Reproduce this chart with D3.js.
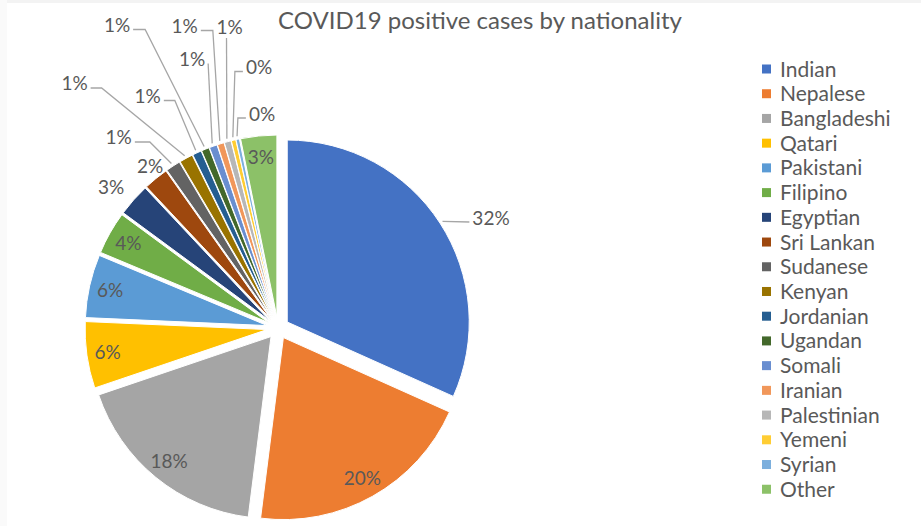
<!DOCTYPE html>
<html>
<head>
<meta charset="utf-8">
<script src="https://cdn.jsdelivr.net/npm/d3@7/dist/d3.min.js"></script>
<style>
  body { margin: 0; background: #fff; }
  text { font-family: Lato, "Open Sans", sans-serif; fill: #595959; }
</style>
</head>
<body>
<svg id="chart" width="921" height="526"></svg>
<script>
// share of positive cases (%)
var nationalities = ["Indian", "Nepalese", "Bangladeshi", "Qatari", "Pakistani", "Filipino",
    "Egyptian", "Sri Lankan", "Sudanese", "Kenyan", "Jordanian", "Ugandan", "Somali",
    "Iranian", "Palestinian", "Yemeni", "Syrian", "Other"];
var shares = [31.7, 20.3, 17.8, 5.9, 5.6, 3.8, 2.9, 2.2, 1.3, 1.2, 0.8, 0.7, 0.7, 0.6, 0.6, 0.4, 0.3, 3.2];
var colors = ["#4472C4", "#ED7D31", "#A5A5A5", "#FFC000", "#5B9BD5", "#70AD47",
    "#264478", "#9E480E", "#636363", "#997300", "#255E91", "#43682B", "#698ED0",
    "#F1975A", "#B7B7B7", "#FFCD33", "#7CAFDD", "#8CC168"];

var title = "COVID19 positive cases by nationality";

// where the labels that sit outside the pie go (excel-ish best fit)
var outsideLabels = {
    "Indian":      { x: 491,   y: 218,  side: "l", hook: 0 },
    "Egyptian":    { x: 111,   y: 187.5 },
    "Sri Lankan":  { x: 150,   y: 166.5 },
    "Sudanese":    { x: 118.7, y: 137.5, side: "r", hook: 15 },
    "Kenyan":      { x: 74.5,  y: 83.5,  side: "r", hook: 11 },
    "Jordanian":   { x: 147.7, y: 96,    side: "r", hook: 11 },
    "Ugandan":     { x: 117,   y: 25,    side: "r", hook: 12 },
    "Somali":      { x: 192,   y: 59,    side: "r", hook: 0 },
    "Iranian":     { x: 184.7, y: 26,    side: "r", hook: 12 },
    "Palestinian": { x: 229.5, y: 27,    side: "b", hook: 0 },
    "Yemeni":      { x: 259,   y: 67.5,  side: "l", hook: 8 },
    "Syrian":      { x: 262,   y: 114,   side: "l", hook: 8 }
};

var svg = d3.select("#chart");
var cx = 278, cy = 328, radius = 182, explode = 11;

// faint frame at the top / left edge of the screenshot
svg.append("rect").attr("x", 0).attr("y", 0).attr("width", 921).attr("height", 3).attr("fill", "#f3f3f3");
svg.append("rect").attr("x", 0).attr("y", 0).attr("width", 7).attr("height", 526).attr("fill", "#fafafa");

svg.append("text")
    .attr("x", 480).attr("y", 29)
    .attr("text-anchor", "middle")
    .style("font-size", "24px")
    .text(title);

var data = nationalities.map(function(n, i) { return { name: n, value: shares[i], color: colors[i] }; });

var pie = d3.pie().sort(null).value(function(d) { return d.value; });
var arc = d3.arc().innerRadius(0).outerRadius(radius);
var arcs = pie(data);

function dir(a) { return [Math.sin(a), -Math.cos(a)]; }

var g = svg.append("g").attr("transform", "translate(" + cx + "," + cy + ")");

var slice = g.selectAll("g.slice")
    .data(arcs)
    .enter().append("g")
    .attr("class", "slice")
    .attr("transform", function(d) {
        var u = dir((d.startAngle + d.endAngle) / 2);
        return "translate(" + (u[0] * explode) + "," + (u[1] * explode) + ")";
    });

slice.append("path")
    .attr("d", arc)
    .attr("fill", function(d) { return d.data.color; })
    .attr("stroke", "#fff")
    .attr("stroke-width", 1);

// labels
var labelSize = 19;
arcs.forEach(function(d) {
    var mid = (d.startAngle + d.endAngle) / 2;
    var u = dir(mid);
    var ox = u[0] * explode, oy = u[1] * explode;
    var txt = Math.round(d.data.value) + "%";
    var lay = outsideLabels[d.data.name];
    if (!lay) {
        g.append("text")
            .attr("x", ox + u[0] * (radius - 21))
            .attr("y", oy + u[1] * (radius - 21))
            .attr("dy", "0.36em")
            .attr("text-anchor", "middle")
            .style("font-size", labelSize + "px")
            .text(txt);
        return;
    }
    var t = svg.append("text")
        .attr("x", lay.x).attr("y", lay.y)
        .attr("dy", "0.36em")
        .attr("text-anchor", "middle")
        .style("font-size", labelSize + "px")
        .text(txt);
    if (!lay.side) return;
    var w = t.node().getComputedTextLength();
    var sx, sy, ex;
    if (lay.side === "r") { sx = lay.x + w / 2 + 3; sy = lay.y + 4.5; ex = sx + lay.hook; }
    else if (lay.side === "l") { sx = lay.x - w / 2 - 3; sy = lay.y + 4; ex = sx - lay.hook; }
    else { sx = lay.x - 3; sy = lay.y + 11; ex = sx; }
    var px = cx + ox + u[0] * (radius + 3), py = cy + oy + u[1] * (radius + 3);
    svg.insert("path", "text")
        .attr("d", d3.line()([[sx, sy], [ex, sy], [px, py]]))
        .attr("fill", "none")
        .attr("stroke", "#a6a6a6")
        .attr("stroke-width", 1.3);
});

// legend
var legend = svg.append("g").attr("transform", "translate(762,69)");
var item = legend.selectAll("g")
    .data(data)
    .enter().append("g")
    .attr("transform", function(d, i) { return "translate(0," + (i * 24.72) + ")"; });
item.append("rect")
    .attr("x", 0).attr("y", -4.5)
    .attr("width", 9).attr("height", 9)
    .attr("fill", function(d) { return d.color; });
item.append("text")
    .attr("x", 18).attr("dy", "0.36em")
    .style("font-size", "21px")
    .text(function(d) { return d.name; });
</script>
</body>
</html>
